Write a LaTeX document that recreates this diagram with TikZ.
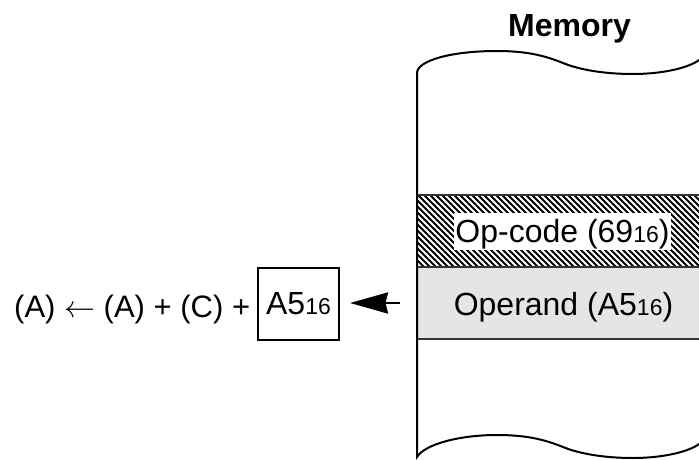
\RequirePackage{fix-cm}
\documentclass[tikz,border=0pt]{standalone}
\usepackage{fontspec}
\setmainfont{Liberation Sans}
\usetikzlibrary{arrows.meta}
\newcommand{\sixteen}{{\fontsize{23}{23}\selectfont 16}}
\begin{document}
\begin{tikzpicture}[x=1pt,y=1pt,
  txt/.style={font=\fontsize{32}{36}\selectfont, inner sep=0pt},
  outline/.style={line width=2pt, black},
  bandline/.style={line width=1.6pt, black!80},
  hatchline/.style={line width=1.9pt, black},
  arr/.style={line width=2.6pt, -{Stealth[length=38pt,width=21pt,inset=2.5pt]}}]
\useasboundingbox (0,0) rectangle (699,459);
% operand band
\fill[black!10] (417,120) rectangle (699,192);
% hatched op-code band
\begin{scope}
\clip (417,192) rectangle (699,264);
\foreach \x in {340,346,...,706} \draw[hatchline] (\x,264) -- (\x+72,192);
\end{scope}
\draw[bandline] (417,264) -- (699,264) (417,192) -- (699,192) (417,120) -- (699,120);
% memory outline
\draw[outline] (699,399) .. controls (690,392) and (665,385) .. (633,385)
  .. controls (605,385) and (580,389) .. (563,396)
  .. controls (548,402) and (530,408) .. (497,408)
  .. controls (450,408) and (417,398) .. (417,386) -- (417,2)
  .. controls (425,15) and (460,24) .. (497,24)
  .. controls (530,24) and (548,18) .. (563,12)
  .. controls (580,5) and (605,1) .. (633,1)
  .. controls (665,1) and (690,8) .. (699,15);
% labels
\node[txt, font=\fontsize{32}{36}\selectfont\bfseries, anchor=base] (memlabel) at (569.5,422) {Memory};
\node[txt, fill=white, inner xsep=1pt, inner ysep=2pt, text height=27pt, text depth=6pt, anchor=base] (opcode) at (562.5,217) {Op-code (69\sixteen)};
\node[txt, anchor=base] (operand) at (563.5,144) {Operand (A5\sixteen)};
\node[txt, font=\fontsize{31}{36}\selectfont, anchor=base west] (formula) at (14,142) {(A) $\leftarrow$ (A) + (C) +};
\node[txt, draw, line width=2pt, minimum width=81pt, minimum height=72pt] (a5box) at (298.5,155) {A5\sixteen};
\coordinate (arrstart) at (400,156);
\draw[arr, shorten >=10pt] (arrstart) -- (a5box.east |- arrstart);
\end{tikzpicture}
\end{document}
